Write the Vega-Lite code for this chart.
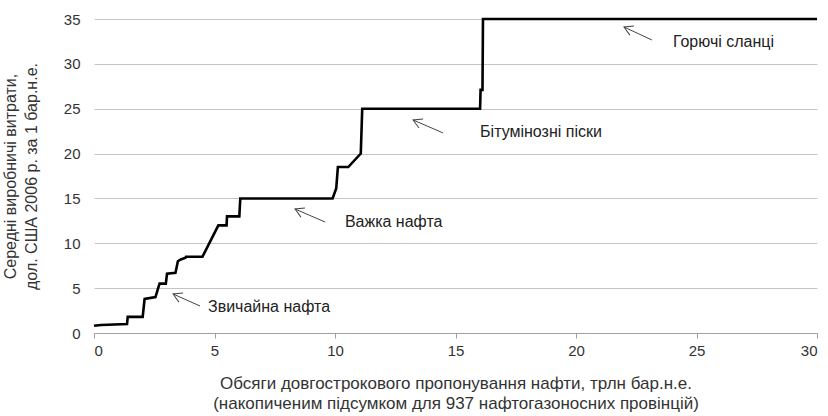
{
  "$schema": "https://vega.github.io/schema/vega-lite/v6.json",
  "width": 723,
  "height": 314,
  "autosize": "none",
  "padding": {"left": 94, "top": 19, "right": 11, "bottom": 83},
  "background": "white",
  "config": {
    "view": {"stroke": null},
    "font": "Liberation Sans",
    "axis": {"labelFont": "Liberation Sans", "titleFont": "Liberation Sans", "labelFontSize": 15, "titleFontSize": 16, "labelColor": "#333", "titleColor": "#333", "titleFontWeight": "normal"}
  },
  "layer": [
    {
      "data": {"values": [
        {"x": 0, "y": 0.8}, {"x": 0.3, "y": 0.9}, {"x": 1.37, "y": 1.0}, {"x": 1.4, "y": 1.8},
        {"x": 2.02, "y": 1.8}, {"x": 2.1, "y": 3.8}, {"x": 2.55, "y": 4.0}, {"x": 2.72, "y": 5.5},
        {"x": 2.98, "y": 5.5}, {"x": 3.03, "y": 6.6}, {"x": 3.38, "y": 6.7}, {"x": 3.48, "y": 8.0},
        {"x": 3.6, "y": 8.2}, {"x": 3.8, "y": 8.4}, {"x": 3.82, "y": 8.5}, {"x": 4.5, "y": 8.5},
        {"x": 5.16, "y": 12.0}, {"x": 5.5, "y": 12.0}, {"x": 5.52, "y": 13.0}, {"x": 6.03, "y": 13.0},
        {"x": 6.07, "y": 15.0}, {"x": 9.9, "y": 15.0}, {"x": 10.05, "y": 16.1}, {"x": 10.12, "y": 18.5},
        {"x": 10.55, "y": 18.5}, {"x": 11.07, "y": 20.0}, {"x": 11.13, "y": 25.0}, {"x": 16.02, "y": 25.0},
        {"x": 16.04, "y": 27.1}, {"x": 16.12, "y": 27.1}, {"x": 16.14, "y": 35.0}, {"x": 30, "y": 35.0}
      ]},
      "mark": {"type": "line", "color": "black", "strokeWidth": 2.6, "clip": false},
      "encoding": {
        "x": {"field": "x", "type": "quantitative", "scale": {"domain": [0, 30], "nice": false},
          "axis": {"values": [0, 5, 10, 15, 20, 25, 30], "grid": false, "domainColor": "#a0a0a0", "tickColor": "#a0a0a0", "tickSize": 5, "labelPadding": 5,
            "title": ["Обсяги довгострокового пропонування нафти, трлн бар.н.е.", "(накопиченим підсумком для 937 нафтогазоносних провінцій)"],
            "titleFontSize": 17, "titlePadding": 17, "titleLineHeight": 20}},
        "y": {"field": "y", "type": "quantitative", "scale": {"domain": [0, 35], "nice": false},
          "axis": {"values": [0, 5, 10, 15, 20, 25, 30, 35], "grid": true, "gridColor": "#c4c4c4", "domain": false, "ticks": false, "tickSize": 0, "labelPadding": 14,
            "title": ["Середні виробничі витрати,", "дол. США 2006 р. за 1 бар.н.е."],
            "titleLineHeight": 21, "titleX": -76, "titleY": 157, "titleAngle": -90, "titleAlign": "center", "titleBaseline": "bottom"}},
        "order": {"field": "x", "type": "quantitative"}
      }
    },
    {
      "data": {"values": [
        {"x": 3.28, "y": 4.35, "x2": 4.4, "y2": 3.01},
        {"x": 8.34, "y": 13.82, "x2": 9.59, "y2": 12.37},
        {"x": 13.24, "y": 23.75, "x2": 14.48, "y2": 22.3},
        {"x": 21.99, "y": 34.11, "x2": 23.15, "y2": 32.66}
      ]},
      "layer": [
        {
          "mark": {"type": "rule", "color": "#444", "strokeWidth": 1},
          "encoding": {
            "x": {"field": "x", "type": "quantitative"},
            "y": {"field": "y", "type": "quantitative"},
            "x2": {"field": "x2"},
            "y2": {"field": "y2"}
          }
        },
        {
          "mark": {"type": "point", "filled": false, "color": "#444", "strokeWidth": 1, "opacity": 1, "size": 400, "angle": 24, "shape": "M 0.87 -0.5 L 0 0 L 0.87 0.5"},
          "encoding": {
            "x": {"field": "x", "type": "quantitative"},
            "y": {"field": "y", "type": "quantitative"}
          }
        }
      ]
    },
    {
      "data": {"values": [
        {"x": 4.73, "y": 2.95, "label": "Звичайна нафта"},
        {"x": 10.41, "y": 12.32, "label": "Важка нафта"},
        {"x": 16.02, "y": 22.41, "label": "Бітумінозні піски"},
        {"x": 24.02, "y": 32.44, "label": "Горючі сланці"}
      ]},
      "mark": {"type": "text", "align": "left", "baseline": "middle", "fontSize": 16, "font": "Liberation Sans", "color": "#222"},
      "encoding": {
        "x": {"field": "x", "type": "quantitative"},
        "y": {"field": "y", "type": "quantitative"},
        "text": {"field": "label"}
      }
    }
  ]
}
